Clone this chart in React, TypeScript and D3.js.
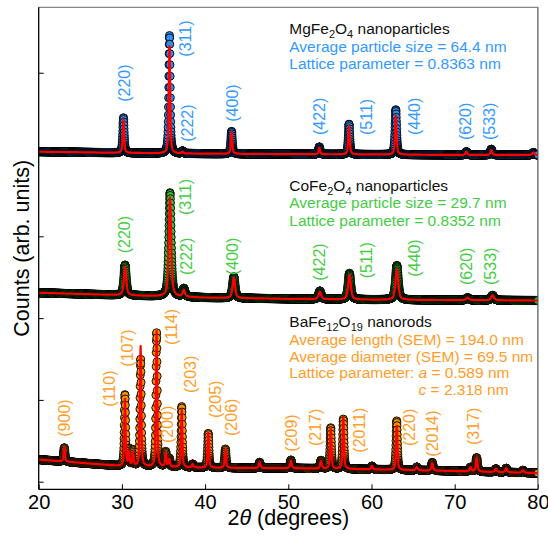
import React, { useEffect, useRef } from 'react';
import * as d3 from 'd3';

const W = 548;
const H = 540;
const FONT = 'Liberation Sans, Arial, Helvetica, sans-serif';

// scan range (degrees 2θ) and step of the diffractometer
const scanStart = 20;
const scanEnd = 80;
const scanStep = 0.015;

const xTicks = [20, 30, 40, 50, 60, 70, 80];
const yTicks = [0, 1, 2, 3, 4, 5];

// MgFe2O4 nanoparticles
const mgPeakPos = [30.19, 35.72, 37.28, 43.18, 53.73, 57.3, 62.92, 71.4, 74.4, 79.45];
const mgObsHeight = [0.43, 1.44, 0.03, 0.275, 0.09, 0.37, 0.55, 0.04, 0.07, 0.03];
const mgFitHeight = [0.41, 1.31, 0.02, 0.27, 0.08, 0.35, 0.48, 0.04, 0.06, 0.03];
const mgFwhm = [0.2, 0.2, 0.2, 0.21, 0.22, 0.22, 0.23, 0.25, 0.25, 0.26];
const mgBgAngles = [20, 30, 40, 50, 60, 70, 80];
const mgBg = [4.035, 4.02, 4.01, 4.005, 4.0, 3.995, 3.995];
const mgLabels = ['(220)', '(311)', '(222)', '(400)', '(422)', '(511)', '(440)', '(620)', '(533)'];
const mgLabelX = [30.32, 37.7, 37.91, 43.35, 53.69, 59.42, 65.11, 71.24, 74.18];
const mgLabelY = [4.645, 5.196, 4.156, 4.401, 4.238, 4.238, 4.238, 4.177, 4.177];

// CoFe2O4 nanoparticles
const coPeakPos = [30.38, 35.78, 37.45, 43.45, 53.8, 57.35, 63.05, 71.55, 74.55];
const coObsHeight = [0.37, 1.27, 0.1, 0.26, 0.1, 0.32, 0.42, 0.03, 0.06];
const coFitHeight = [0.35, 1.21, 0.08, 0.25, 0.09, 0.3, 0.37, 0.03, 0.06];
const coFwhm = [0.34, 0.34, 0.34, 0.36, 0.38, 0.38, 0.4, 0.42, 0.42];
const coBgAngles = [20, 30, 40, 50, 60, 70, 80];
const coBg = [2.31, 2.28, 2.25, 2.235, 2.225, 2.22, 2.215];
const coLabels = ['(220)', '(311)', '(222)', '(400)', '(422)', '(511)', '(440)', '(620)', '(533)'];
const coLabelX = [30.37, 37.7, 37.79, 43.35, 53.81, 59.42, 65.11, 71.36, 74.36];
const coLabelY = [2.792, 3.26, 2.527, 2.527, 2.457, 2.487, 2.506, 2.405, 2.405];

// BaFe12O19 nanorods
const baPeakPos = [23.08, 30.37, 30.86, 31.34, 32.25, 34.17, 35.27, 35.7, 37.19, 38.5, 40.38, 42.44, 46.55,
  50.32, 53.93, 55.1, 56.61, 60.05, 63.03, 65.45, 67.3, 71.9, 72.64, 74.95, 76.2, 78.2];
const baObsHeight = [0.17, 0.87, 0.2, 0.19, 1.31, 1.64, 0.18, 0.1, 0.74, 0.04, 0.42, 0.23, 0.07,
  0.1, 0.1, 0.5, 0.61, 0.04, 0.6, 0.04, 0.1, 0.05, 0.17, 0.04, 0.05, 0.03];
const baFitHeight = [0.17, 0.82, 0.17, 0.16, 1.47, 1.66, 0.16, 0.09, 0.7, 0.04, 0.43, 0.22, 0.07,
  0.09, 0.09, 0.49, 0.63, 0.04, 0.54, 0.04, 0.09, 0.05, 0.16, 0.04, 0.05, 0.03];
const baFwhm = [0.2, 0.18, 0.18, 0.18, 0.18, 0.18, 0.2, 0.2, 0.18, 0.2, 0.19, 0.2, 0.22,
  0.24, 0.24, 0.2, 0.2, 0.24, 0.2, 0.24, 0.24, 0.26, 0.24, 0.26, 0.26, 0.28];
const baBgAngles = [20, 25, 30, 40, 50, 60, 70, 80];
const baBg = [0.27, 0.23, 0.19, 0.17, 0.165, 0.15, 0.13, 0.105];
const baLabels = ['(900)', '(110)', '(107)', '(114)', '(200)', '(203)', '(205)', '(206)', '(209)', '(217)',
  '(2011)', '(220)', '(2014)', '(317)'];
const baLabelX = [23.08, 28.49, 30.65, 35.99, 35.46, 38.19, 41.19, 43.2, 50.41, 53.21, 58.53, 64.54, 67.36, 72.24];
const baLabelY = [0.55, 0.917, 1.406, 1.671, 0.473, 1.084, 0.779, 0.559, 0.367, 0.436, 0.355, 0.436, 0.306, 0.449];

const ETA = 0.6; // pseudo-Voigt mixing

const profile = (t: number, pos: number[], h: number[], w: number[]) => {
  let s = 0;
  for (let i = 0; i < pos.length; i++) {
    const d = (t - pos[i]) / w[i];
    s += h[i] * (ETA / (1 + 4 * d * d) + (1 - ETA) * Math.exp(-4 * Math.LN2 * d * d));
  }
  return s;
};

const App = () => {
  const chartRef = useRef<SVGSVGElement>(null);

  useEffect(() => {
    const svg = d3.select(chartRef.current);
    svg.selectAll('*').remove();

    const left = 38.7, right = 537.9, top = 7.3, bottom = 489.3;
    const x = d3.scaleLinear().domain([scanStart, scanEnd]).range([left, right]);
    const y = d3.scaleLinear().domain([-0.093, 5.8]).range([bottom, top]);

    svg.append('defs').append('clipPath').attr('id', 'plotclip')
      .append('rect').attr('x', left).attr('y', top).attr('width', right - left).attr('height', bottom - top);

    const angles = d3.range(scanStart, scanEnd + scanStep / 2, scanStep);

    const series = [
      { pos: mgPeakPos, obs: mgObsHeight, fit: mgFitHeight, w: mgFwhm, bgA: mgBgAngles, bg: mgBg,
        labels: mgLabels, lx: mgLabelX, ly: mgLabelY, fill: '#2f8ef0', text: '#3399ff' },
      { pos: coPeakPos, obs: coObsHeight, fit: coFitHeight, w: coFwhm, bgA: coBgAngles, bg: coBg,
        labels: coLabels, lx: coLabelX, ly: coLabelY, fill: '#37c037', text: '#44cc44' },
      { pos: baPeakPos, obs: baObsHeight, fit: baFitHeight, w: baFwhm, bgA: baBgAngles, bg: baBg,
        labels: baLabels, lx: baLabelX, ly: baLabelY, fill: '#f39200', text: '#ff9d2a' },
    ];

    const plot = svg.append('g').attr('clip-path', 'url(#plotclip)');

    series.forEach(s => {
      const bg = d3.scaleLinear().domain(s.bgA).range(s.bg);
      const obs = angles.map(t => [t, bg(t) + profile(t, s.pos, s.obs, s.w)]);
      const fit = angles.map(t => [t, bg(t) + profile(t, s.pos, s.fit, s.w)]);

      // hkl labels (drawn under the data)
      svg.append('g')
        .selectAll('text')
        .data(s.labels)
        .enter()
        .append('text')
        .attr('transform', (d, i) => `translate(${x(s.lx[i])},${y(s.ly[i])}) rotate(-90)`)
        .attr('dominant-baseline', 'central')
        .attr('font-family', FONT)
        .attr('font-size', 16)
        .attr('fill', s.text)
        .text(d => d);

      plot.append('g')
        .selectAll('circle')
        .data(obs)
        .enter()
        .append('circle')
        .attr('cx', d => x(d[0]))
        .attr('cy', d => y(d[1]))
        .attr('r', 4)
        .attr('fill', s.fill)
        .attr('stroke', '#000')
        .attr('stroke-width', 0.9);

      const line = d3.line<number[]>().x(d => x(d[0])).y(d => y(d[1]));
      plot.append('path')
        .attr('d', line(fit))
        .attr('fill', 'none')
        .attr('stroke', '#ff0000')
        .attr('stroke-width', 2.2)
        .attr('stroke-linejoin', 'round');
    });

    // annotation blocks
    const note = (tx: number, ty: number, parts: { t: string; sub?: boolean; it?: boolean }[], color: string) => {
      const el = svg.append('text')
        .attr('x', x(tx))
        .attr('y', y(ty))
        .attr('font-family', FONT)
        .attr('font-size', 15.5)
        .attr('fill', color);
      let shifted = false;
      parts.forEach(p => {
        const ts = el.append('tspan').text(p.t);
        if (p.sub && !shifted) { ts.attr('dy', 4).attr('font-size', 11); shifted = true; }
        else if (p.sub) ts.attr('font-size', 11);
        else if (shifted) { ts.attr('dy', -4); shifted = false; }
        if (p.it) ts.attr('font-style', 'italic');
      });
      return el;
    };

    const nx = 50.12;
    note(nx, 5.478, [{ t: 'MgFe' }, { t: '2', sub: true }, { t: 'O' }, { t: '4', sub: true }, { t: ' nanoparticles' }], '#111');
    note(nx, 5.258, [{ t: 'Average particle size = 64.4 nm' }], '#3399ff');
    note(nx, 5.047, [{ t: 'Lattice parameter = 0.8363 nm' }], '#3399ff');

    note(nx, 3.560, [{ t: 'CoFe' }, { t: '2', sub: true }, { t: 'O' }, { t: '4', sub: true }, { t: ' nanoparticles' }], '#111');
    note(nx, 3.344, [{ t: 'Average particle size = 29.7 nm' }], '#44cc44');
    note(nx, 3.124, [{ t: 'Lattice parameter = 0.8352 nm' }], '#44cc44');

    note(nx, 1.895, [{ t: 'BaFe' }, { t: '12', sub: true }, { t: 'O' }, { t: '19', sub: true }, { t: ' nanorods' }], '#111');
    note(nx, 1.675, [{ t: 'Average length (SEM) = 194.0 nm' }], '#ff9d2a');
    note(nx, 1.468, [{ t: 'Average diameter (SEM) = 69.5 nm' }], '#ff9d2a');
    const lat = note(nx, 1.262, [{ t: 'Lattice parameter: ' }, { t: 'a', it: true }, { t: ' = 0.589 nm' }], '#ff9d2a');
    const pre = (lat.select('tspan').node() as SVGTextContentElement).getComputedTextLength();
    svg.append('text')
      .attr('x', x(nx) + pre)
      .attr('y', y(1.055))
      .attr('font-family', FONT)
      .attr('font-size', 15.5)
      .attr('fill', '#ff9d2a')
      .call(t => { t.append('tspan').attr('font-style', 'italic').text('c'); t.append('tspan').text(' = 2.318 nm'); });

    // axes
    const gx = svg.append('g')
      .attr('transform', `translate(0,${bottom})`)
      .call(d3.axisBottom(x).tickValues(xTicks).tickSize(-5).tickPadding(6).tickFormat(d3.format('d')));
    gx.select('.domain').remove();
    gx.selectAll('line').attr('stroke', '#000').attr('stroke-width', 1);
    gx.selectAll('text').attr('font-family', FONT).attr('font-size', 20).attr('fill', '#000');

    const gy = svg.append('g')
      .attr('transform', `translate(${left},0)`)
      .call(d3.axisLeft(y).tickValues(yTicks).tickSize(-5).tickFormat(() => ''));
    gy.select('.domain').remove();
    gy.selectAll('line').attr('stroke', '#000').attr('stroke-width', 1);

    // frame
    svg.append('line').attr('x1', left).attr('x2', right).attr('y1', top).attr('y2', top)
      .attr('stroke', '#888').attr('stroke-width', 1.2);
    svg.append('line').attr('x1', right).attr('x2', right).attr('y1', top).attr('y2', bottom)
      .attr('stroke', '#555').attr('stroke-width', 1.2);
    svg.append('line').attr('x1', left).attr('x2', left).attr('y1', top).attr('y2', bottom)
      .attr('stroke', '#000').attr('stroke-width', 1.3);
    svg.append('line').attr('x1', left).attr('x2', right).attr('y1', bottom).attr('y2', bottom)
      .attr('stroke', '#000').attr('stroke-width', 1.3);

    // axis titles
    svg.append('text')
      .attr('x', (left + right) / 2)
      .attr('y', 525)
      .attr('text-anchor', 'middle')
      .attr('font-family', FONT)
      .attr('font-size', 21.5)
      .call(t => {
        t.append('tspan').text('2');
        t.append('tspan').attr('font-style', 'italic').text('θ');
        t.append('tspan').text(' (degrees)');
      });

    svg.append('text')
      .attr('transform', `translate(28.5,${(top + bottom) / 2}) rotate(-90)`)
      .attr('text-anchor', 'middle')
      .attr('font-family', FONT)
      .attr('font-size', 21.5)
      .text('Counts (arb. units)');
  }, []);

  return (
    <svg ref={chartRef} width={W} height={H} style={{ position: 'absolute', left: 0, top: 0, background: '#fff' }}></svg>
  );
};

export default App;
